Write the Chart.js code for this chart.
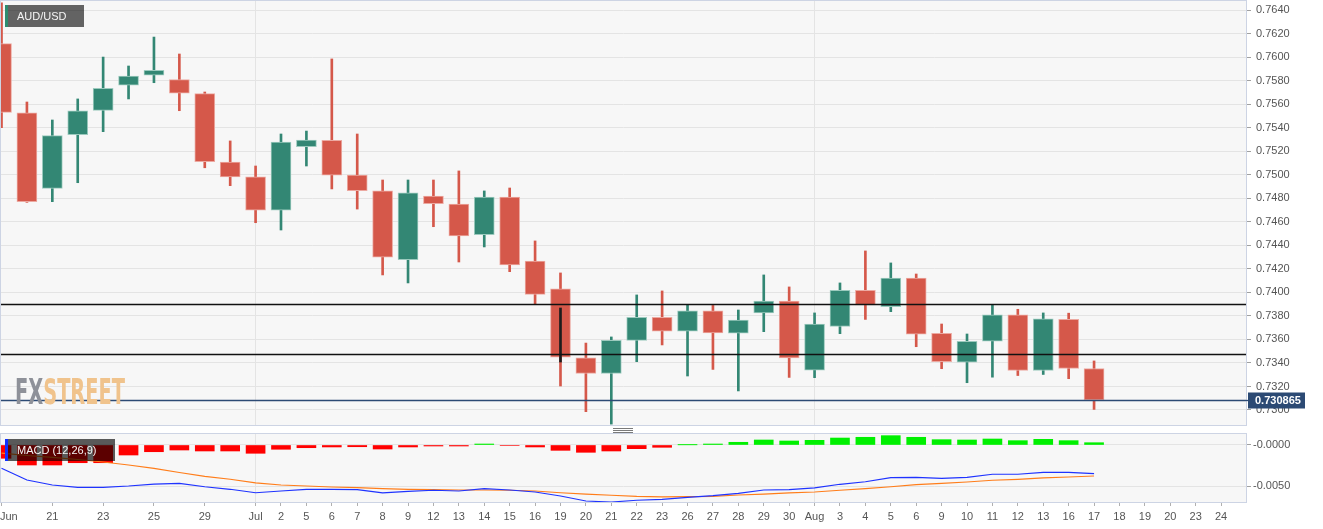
<!DOCTYPE html>
<html>
<head>
<meta charset="utf-8">
<script src="https://cdn.jsdelivr.net/npm/chart.js@4.4.1/dist/chart.umd.min.js"></script>
<style>
  html, body { margin:0; padding:0; background:#ffffff; width:1323px; height:529px; overflow:hidden;
    font-family:"Liberation Sans", Arial, sans-serif; }
  canvas { position:absolute; left:0; display:block; }
  #mainCanvas { top:0; }
  #macdCanvas { top:430px; }
  .tag { position:absolute; box-sizing:border-box; height:22px; line-height:22px; color:#f4f4f4;
    font-size:11px; padding-left:9px; white-space:nowrap; z-index:5; }
  #symTag { left:5px; top:5px; width:79px; background:rgba(0,0,0,0.60); border-left:3px solid #2e8b6f; }
  #macdTag { left:5px; top:439px; width:110px; background:rgba(0,0,0,0.64); border-left:3px solid #1030ff; }
  #wm { position:absolute; left:15px; top:374px; font-size:36px; line-height:36px; font-weight:bold;
    font-family:"Liberation Sans Narrow","DejaVu Sans Condensed","Liberation Sans",sans-serif;
    transform-origin:0 0; white-space:nowrap; z-index:2; letter-spacing:0px; }
  #wm .fx { color:#8e9199; }
  #wm .st { color:#f0c38c; }
  #handle { position:absolute; left:613px; top:428px; width:20px; height:5px; z-index:5;
    border-top:1px solid #7a7a7a; border-bottom:1px solid #7a7a7a; box-sizing:border-box; }
  #handle:after { content:""; position:absolute; left:0; right:0; top:1px; border-top:1px solid #7a7a7a; }
</style>
</head>
<body>
<canvas id="mainCanvas" width="1323" height="430"></canvas>
<canvas id="macdCanvas" width="1323" height="99"></canvas>
<div id="symTag" class="tag">AUD/USD</div>
<div id="macdTag" class="tag">MACD (12,26,9)</div>
<div id="wm"><span class="fx">FX</span><span class="st">STREET</span></div>
<div id="handle"></div>
<script>
// ---------------- DATA ----------------
const dates = ["Jun","18","21","22","23","24","25","28","29","30",
  "Jul","2","5","6","7","8","9","12","13","14","15","16","19","20","21","22","23","26","27","28","29","30",
  "Aug","3","4","5","6","9","10","11","12","13","16","17","18","19","20","23","24"];

const opens  = [0.76114,0.75527,0.74884,0.75340,0.75547,0.75760,0.75845,0.75808,0.75689,0.75108,
  0.74981,0.74698,0.75238,0.75292,0.74997,0.74864,0.74278,0.74819,0.74751,0.74490,0.74810,0.74266,
  0.74031,0.73444,0.73310,0.73592,0.73788,0.73669,0.73842,0.73652,0.73825,0.73926,
  0.73339,0.73710,0.74018,0.73878,0.74122,0.73652,0.73406,0.73584,0.73810,0.73336,0.73770,0.73353];
const highs  = [0.76460,0.75618,0.75465,0.75644,0.76000,0.75924,0.76170,0.76026,0.75703,0.75287,
  0.75074,0.75346,0.75371,0.75984,0.75346,0.74955,0.74955,0.74955,0.75032,0.74862,0.74887,0.74437,
  0.74165,0.73569,0.73621,0.73978,0.74012,0.73898,0.73889,0.73850,0.74148,0.74046,
  0.73825,0.74080,0.74352,0.74250,0.74156,0.73731,0.73646,0.73898,0.73856,0.73825,0.73823,0.73417];
const lows   = [0.75400,0.74765,0.74771,0.74932,0.75366,0.75644,0.75782,0.75544,0.75059,0.74907,
  0.74592,0.74530,0.75074,0.74879,0.74708,0.74148,0.74080,0.74558,0.74258,0.74386,0.74176,0.73898,
  0.73204,0.72986,0.72880,0.73411,0.73553,0.73289,0.73345,0.73162,0.73666,0.73277,
  0.73275,0.73649,0.73770,0.73836,0.73538,0.73351,0.73232,0.73279,0.73293,0.73302,0.73266,0.73005];
const closes = [0.75530,0.74771,0.75332,0.75544,0.75734,0.75839,0.75887,0.75692,0.75111,0.74981,
  0.74698,0.75278,0.75294,0.74997,0.74864,0.74298,0.74847,0.74754,0.74479,0.74810,0.74233,0.73983,
  0.73448,0.73310,0.73592,0.73788,0.73669,0.73842,0.73655,0.73765,0.73926,0.73443,
  0.73731,0.74018,0.73893,0.74122,0.73644,0.73411,0.73584,0.73810,0.73336,0.73776,0.73353,0.730865];

// horizontal lines drawn on the price panel
const levelLines = [0.7390, 0.7348];
// short vertical drawing on the Jul 19 candle: [slot, from, to]
const markSegment = [22, 0.73408, 0.73867];

const priceTicks = [0.7300,0.7320,0.7340,0.7360,0.7380,0.7400,0.7420,0.7440,0.7460,
  0.7480,0.7500,0.7520,0.7540,0.7560,0.7580,0.7600,0.7620,0.7640];
const macdTicks = [-0.005, 0];

const macdLine = [-0.00284,-0.00427,-0.00488,-0.00516,-0.00516,-0.00500,-0.00476,-0.00467,-0.00509,-0.00540,
  -0.00582,-0.00561,-0.00540,-0.00540,-0.00545,-0.00585,-0.00565,-0.00552,-0.00561,-0.00533,-0.00549,-0.00573,
  -0.00622,-0.00683,-0.00695,-0.00674,-0.00662,-0.00638,-0.00618,-0.00589,-0.00549,-0.00545,
  -0.00524,-0.00479,-0.00448,-0.00399,-0.00394,-0.00406,-0.00394,-0.00357,-0.00357,-0.00333,-0.00333,-0.00350];
const signalLine = [-0.00098,-0.00128,-0.00152,-0.00177,-0.00207,-0.00244,-0.00284,-0.00335,-0.00382,-0.00418,
  -0.00463,-0.00488,-0.00500,-0.00512,-0.00521,-0.00533,-0.00540,-0.00545,-0.00549,-0.00549,-0.00552,-0.00561,
  -0.00582,-0.00598,-0.00613,-0.00626,-0.00632,-0.00630,-0.00626,-0.00610,-0.00598,-0.00585,
  -0.00573,-0.00552,-0.00533,-0.00509,-0.00484,-0.00467,-0.00451,-0.00430,-0.00418,-0.00402,-0.00390,-0.00378];
const histogram = [-0.00162,-0.00244,-0.00244,-0.00216,-0.00216,-0.00122,-0.00082,-0.00061,-0.00073,-0.00073,
  -0.00101,-0.00052,-0.00033,-0.00024,-0.00021,-0.00049,-0.00024,-0.00012,-0.00012,0.00012,-0.00006,-0.00024,
  -0.00065,-0.00089,-0.00073,-0.00045,-0.00028,0.00002,0.00012,0.00033,0.00061,0.00049,
  0.00057,0.00085,0.00094,0.00114,0.00094,0.00065,0.00061,0.00073,0.00053,0.00069,0.00053,0.00028];

// ---------------- STYLE ----------------
const FONT = '"Liberation Sans", Arial, sans-serif';
Chart.defaults.font.family = FONT;
const UP = '#338774', DOWN = '#d5584a';
const UP_EDGE = '#9ccabe', DOWN_EDGE = '#eca9a1';
const GRID = '#e4e4e4', PLOT_BG = '#f7f7f7', FRAME = '#cdd4e4', TXT = '#555555';
const PRICE_TAG = '#2c4a74';

const nSlots = dates.length;
const X_MIN = -0.02, X_MAX = nSlots - 1 + 0.98;
const monthIdx = dates.map((d, i) => (/^[A-Za-z]/.test(d) && i > 0) ? i : -1).filter(i => i >= 0);
const shownIdx = dates.map((d, i) => i).filter(i => i >= monthIdx[0] || i % 2 === 0);
const isUp = closes.map((c, i) => c >= opens[i]);
const lastPrice = closes[closes.length - 1];

const plotBg = {
  id: 'plotBg',
  beforeDraw(chart) {
    const { ctx, chartArea: a } = chart;
    ctx.save(); ctx.fillStyle = PLOT_BG;
    ctx.fillRect(a.left, a.top, a.right - a.left, a.bottom - a.top);
    ctx.restore();
  },
  afterDraw(chart) {
    const { ctx, chartArea: a } = chart;
    ctx.save(); ctx.strokeStyle = FRAME; ctx.lineWidth = 1;
    ctx.strokeRect(a.left - 0.5, a.top - 0.5, a.right - a.left + 1, a.bottom - a.top + 1);
    ctx.restore();
  }
};

const levelsPlugin = {
  id: 'levels',
  afterDatasetsDraw(chart) {
    const { ctx, chartArea: a, scales: { y } } = chart;
    ctx.save();
    ctx.lineWidth = 1.3;
    ctx.strokeStyle = '#111111';
    levelLines.forEach(v => {
      const py = Math.round(y.getPixelForValue(v)) + 0.5;
      ctx.beginPath(); ctx.moveTo(a.left, py); ctx.lineTo(a.right, py); ctx.stroke();
    });
    const py = Math.round(y.getPixelForValue(lastPrice)) + 0.5;
    ctx.strokeStyle = PRICE_TAG;
    ctx.beginPath(); ctx.moveTo(a.left, py); ctx.lineTo(a.right, py); ctx.stroke();
    ctx.restore();
  },
  afterDraw(chart) {
    const { ctx, chartArea: a, scales: { y } } = chart;
    const py = Math.round(y.getPixelForValue(lastPrice)) + 0.5;
    ctx.save();
    ctx.strokeStyle = PRICE_TAG; ctx.lineWidth = 1.3;
    ctx.beginPath(); ctx.moveTo(a.right, py); ctx.lineTo(a.right + 3, py); ctx.stroke();
    ctx.fillStyle = PRICE_TAG;
    ctx.fillRect(a.right + 2, py - 8, 57, 16);
    ctx.fillStyle = '#ffffff';
    ctx.font = 'bold 11px ' + FONT;
    ctx.textBaseline = 'middle'; ctx.textAlign = 'left';
    ctx.fillText(lastPrice.toFixed(6), a.right + 9, py + 0.5);
    ctx.restore();
  }
};

const xLabels = {
  id: 'xLabels',
  afterDraw(chart) {
    const { ctx, chartArea: a, scales: { x } } = chart;
    ctx.save();
    ctx.font = '11px ' + FONT; ctx.fillStyle = TXT;
    ctx.textAlign = 'center'; ctx.textBaseline = 'middle';
    shownIdx.forEach(i => {
      const w = ctx.measureText(dates[i]).width;
      let px = x.getPixelForValue(i);
      px = Math.max(px, w / 2);
      ctx.fillText(dates[i], px, a.bottom + 15);
    });
    ctx.restore();
  }
};

function noPad(s) { s.paddingTop = 0; s.paddingBottom = 0; s.paddingLeft = 0; s.paddingRight = 0; }

// ---------------- PRICE PANEL ----------------
const pxPerUnit = 400 / (priceTicks[priceTicks.length - 1] - priceTicks[0]);
new Chart(document.getElementById('mainCanvas'), {
  type: 'bar',
  data: {
    datasets: [
      {
        label: 'mark',
        data: [{ x: markSegment[0], y: [markSegment[1], markSegment[2]] }],
        backgroundColor: '#1c1c1c', barThickness: 2, borderWidth: 0, grouped: false, order: 0
      },
      {
        label: 'bodies',
        data: opens.map((o, i) => ({ x: i, y: [o, closes[i]] })),
        backgroundColor: isUp.map(u => u ? UP : DOWN),
        borderColor: isUp.map(u => u ? UP_EDGE : DOWN_EDGE),
        borderWidth: 1, borderSkipped: false, barThickness: 20, minBarLength: 2,
        grouped: false, order: 1
      },
      {
        label: 'wicks',
        data: lows.map((l, i) => ({ x: i, y: [l, highs[i]] })),
        backgroundColor: isUp.map(u => u ? UP : DOWN),
        borderWidth: 0, barThickness: 2, grouped: false, order: 2
      }
    ]
  },
  options: {
    responsive: false, animation: false, devicePixelRatio: 1,
    layout: { padding: { left: 1, top: 1, right: 0, bottom: 5 } },
    plugins: { legend: { display: false }, tooltip: { enabled: false } },
    scales: {
      x: {
        type: 'linear', min: X_MIN, max: X_MAX, offset: false,
        afterBuildTicks: s => { s.ticks = monthIdx.map(v => ({ value: v })); },
        ticks: { display: false },
        grid: { color: GRID, drawTicks: false, offset: false },
        border: { display: false },
        afterFit: s => { s.height = 0; noPad(s); }
      },
      y: {
        position: 'right',
        min: priceTicks[0] - 15 / pxPerUnit,
        max: priceTicks[priceTicks.length - 1] + 9 / pxPerUnit,
        afterBuildTicks: s => { s.ticks = priceTicks.map(v => ({ value: v })); },
        ticks: { font: { size: 11, family: FONT }, color: TXT, padding: 5, autoSkip: false,
          callback: v => Number(v).toFixed(4) },
        grid: { color: GRID, tickLength: 5, tickColor: '#a0a0a0' },
        border: { display: false },
        afterFit: s => { s.width = 77; noPad(s); }
      }
    }
  },
  plugins: [plotBg, levelsPlugin]
});

// ---------------- MACD PANEL ----------------
const macdPx = 41 / 0.005;
new Chart(document.getElementById('macdCanvas'), {
  type: 'bar',
  data: {
    datasets: [
      {
        type: 'line', label: 'MACD',
        data: macdLine.map((v, i) => ({ x: i, y: v })),
        borderColor: '#1f33ff', borderWidth: 1.2, pointRadius: 0, tension: 0, order: 0
      },
      {
        type: 'line', label: 'Signal',
        data: signalLine.map((v, i) => ({ x: i, y: v })),
        borderColor: '#ff7d1a', borderWidth: 1.2, pointRadius: 0, tension: 0, order: 1
      },
      {
        type: 'bar', label: 'Histogram',
        data: histogram.map((v, i) => ({ x: i, y: v })),
        backgroundColor: histogram.map(v => v >= 0 ? '#00f000' : '#ff0000'),
        borderWidth: 0, barThickness: 19, grouped: false, order: 2
      }
    ]
  },
  options: {
    responsive: false, animation: false, devicePixelRatio: 1,
    layout: { padding: { left: 1, top: 4, right: 0, bottom: 0 } },
    plugins: { legend: { display: false }, tooltip: { enabled: false } },
    scales: {
      x: {
        type: 'linear', min: X_MIN, max: X_MAX, offset: false,
        afterBuildTicks: s => { s.ticks = shownIdx.map(v => ({ value: v })); },
        ticks: { display: false },
        grid: {
          offset: false,
          color: c => monthIdx.includes(c.tick && c.tick.value) ? GRID : 'rgba(0,0,0,0)',
          tickColor: '#b0b0b0', tickLength: 4, drawTicks: true
        },
        border: { display: false },
        afterFit: s => { s.height = 27; noPad(s); }
      },
      y: {
        position: 'right',
        min: -57 / macdPx, max: 11 / macdPx,
        afterBuildTicks: s => { s.ticks = macdTicks.map(v => ({ value: v })); },
        ticks: { font: { size: 11, family: FONT }, color: TXT, padding: 2, autoSkip: false,
          callback: v => (v <= 0 ? '-' : '') + Math.abs(v).toFixed(4) },
        grid: { color: GRID, tickLength: 5, tickColor: '#a0a0a0' },
        border: { display: false },
        afterFit: s => { s.width = 77; noPad(s); }
      }
    }
  },
  plugins: [plotBg, xLabels]
});

// watermark: fit its width to the logo box
(function () {
  const wm = document.getElementById('wm');
  const w = wm.getBoundingClientRect().width;
  if (w > 0) wm.style.transform = 'scaleX(' + (110 / w) + ')';
})();
</script>
</body>
</html>
